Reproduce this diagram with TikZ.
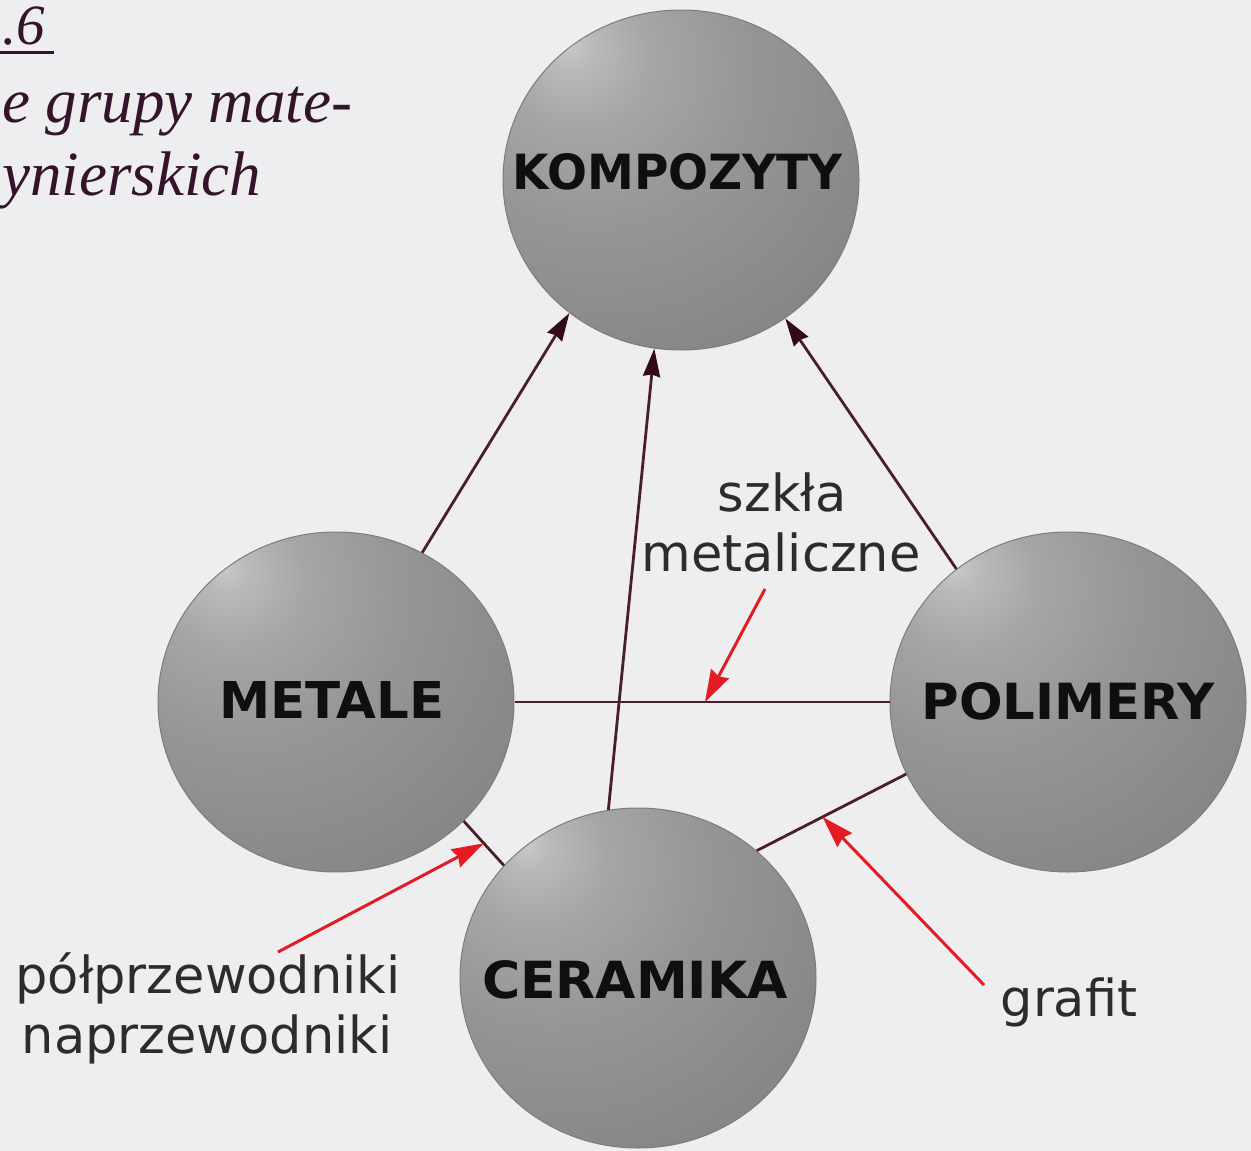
\documentclass[tikz,border=0pt]{standalone}
\usepackage{fontspec}
\setmainfont{DejaVu Sans}
\newfontfamily\capfont{Liberation Serif}
\usetikzlibrary{arrows.meta,shapes.geometric}

\definecolor{bgc}{RGB}{238,238,240}
\definecolor{conn}{RGB}{72,30,46}
\definecolor{connhead}{RGB}{50,10,26}
\definecolor{redar}{RGB}{226,28,34}
\definecolor{lbl}{RGB}{44,44,46}
\definecolor{capc}{RGB}{52,20,42}
\definecolor{sphA}{RGB}{202,202,202}
\definecolor{sphB}{RGB}{186,186,186}
\definecolor{sphC}{RGB}{166,166,166}
\definecolor{sphD}{RGB}{150,150,150}
\definecolor{sphE}{RGB}{136,136,136}
\definecolor{sphF}{RGB}{122,122,122}
\definecolor{sphG}{RGB}{104,104,104}
\definecolor{rimc}{RGB}{124,124,124}

\pgfdeclareradialshading{sphere}{\pgfpoint{-16bp}{20bp}}{%
  color(0bp)=(sphA); color(3bp)=(sphB); color(10bp)=(sphC);
  color(22bp)=(sphD); color(38bp)=(sphE); color(54bp)=(sphF);
  color(70bp)=(sphG); color(100bp)=(sphG)}

\tikzset{
  sph/.style={ellipse, minimum width=356pt, minimum height=340pt, inner sep=0pt,
              shade, shading=sphere, draw=rimc, line width=1pt},
  biglbl/.style={font=\fontsize{50}{60}\selectfont\bfseries, text=black!94, inner sep=0pt},
  note/.style={font=\fontsize{51}{62}\selectfont, text=lbl, inner sep=0pt, anchor=base},
  capt/.style={font=\capfont\itshape\fontsize{63}{72}\selectfont, text=capc, inner sep=0pt, anchor=base west},
  link/.style={draw=conn, line width=2.8pt},
  uplink/.style={link, -{Stealth[length=28pt,width=17pt,inset=2pt,color=connhead]}},
  redarrow/.style={draw=redar, line width=3pt, -{Stealth[length=32pt,width=20pt,inset=3pt]}}
}

\begin{document}
\begin{tikzpicture}[x=1pt,y=-1pt]
\fill[bgc] (0,0) rectangle (1251,1151);
\useasboundingbox (0,0) rectangle (1251,1151);

% caption fragment
\node[capt, font=\capfont\itshape\fontsize{57}{66}\selectfont] (c1) at (2,44) {.6};
\draw[capc, line width=3pt] (c1.base west) ++(-2,8) -- ++(54,0);
\node[capt] (c2) at (2,122) {e grupy mate-};
\node[capt] (c3) at (2,195) {ynierskich};

% spheres
\node[sph] (K) at (681,180) {};
\node[sph] (M) at (336,702) {};
\node[sph] (P) at (1068,702) {};
\node[sph] (C) at (638,978) {};

% connectors
\draw[uplink] (M.60) -- (K.230);
\draw[uplink] (C.100) -- (K.261);
\draw[uplink] (P.130) -- (K.307);
\draw[link] (M.east) -- (P.west) coordinate[pos=0.508] (tipS);
\draw[link] (M.317) -- (C.140) coordinate[pos=0.5] (tipH);
\draw[link] (C.47) -- (P.204) coordinate[pos=0.44] (tipG);

% sphere labels
\node[biglbl] (kt) at (678,172) {\resizebox{330pt}{36pt}{KOMPOZYTY}};
\node[biglbl] (mt) at (332,700) {\resizebox{225pt}{37pt}{METALE}};
\node[biglbl] (pt) at (1068,701) {\resizebox{293pt}{37pt}{POLIMERY}};
\node[biglbl] (ct) at (635,980) {\resizebox{306pt}{38pt}{CERAMIKA}};

% annotations
\node[note] (s1) at (782,511) {szkła};
\node[note] (s2) at (781,571) {metaliczne};
\node[note] (h1) at (208,993) {półprzewodniki};
\node[note] (h2) at (207,1053) {naprzewodniki};
\node[note] (g1) at (1069,1016) {grafit};

\coordinate (tailS) at (765,589);
\coordinate (tailH) at (278,952);
\coordinate (tailG) at (984,985);

\draw[redarrow] (tailS) -- (tipS);
\draw[redarrow] (tailH) -- (tipH);
\draw[redarrow] (tailG) -- (tipG);
\end{tikzpicture}
\end{document}
